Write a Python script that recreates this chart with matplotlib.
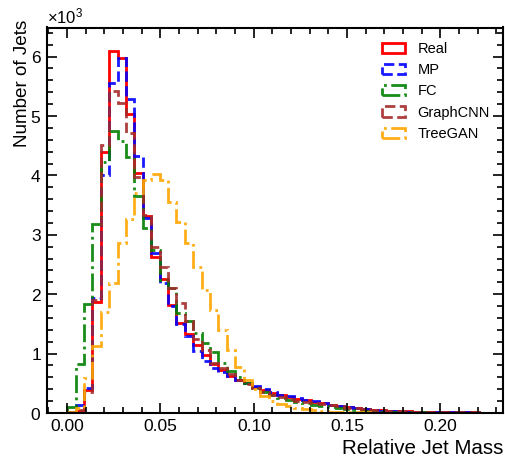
import numpy as np
import matplotlib
matplotlib.use("Agg")
import matplotlib.pyplot as plt
from matplotlib.patches import Patch
from matplotlib.ticker import MultipleLocator, ScalarFormatter

# ---- data (counts per bin) ----
bin_edges = np.linspace(0.0, 0.225, 51)

real = [0.01, 0.03, 0.38, 1.87, 4.40, 6.09, 5.97, 5.03, 4.04, 3.32,
        2.63, 2.25, 1.82, 1.52, 1.33, 1.14, 0.98, 0.83, 0.73, 0.62,
        0.56, 0.50, 0.44, 0.39, 0.34, 0.30, 0.27, 0.24, 0.22, 0.19,
        0.17, 0.14, 0.12, 0.10, 0.08, 0.07, 0.055, 0.045, 0.04, 0.035,
        0.03, 0.025, 0.025, 0.02, 0.02, 0.015, 0.015, 0.01, 0.01, 0.005]
mp = [0.01, 0.13, 0.42, 1.93, 4.00, 5.55, 5.98, 5.28, 4.33, 3.28,
      2.69, 2.19, 1.80, 1.50, 1.30, 1.05, 0.88, 0.75, 0.69, 0.62,
      0.55, 0.50, 0.45, 0.40, 0.35, 0.31, 0.28, 0.25, 0.22, 0.20,
      0.17, 0.14, 0.12, 0.10, 0.08, 0.065, 0.05, 0.04, 0.035, 0.03,
      0.025, 0.02, 0.02, 0.015, 0.015, 0.01, 0.01, 0.01, 0.005, 0.005]
fc = [0.10, 0.82, 1.84, 3.18, 4.22, 4.74, 4.58, 4.31, 3.65, 3.11,
      2.75, 2.24, 2.10, 1.68, 1.55, 1.35, 1.18, 1.03, 0.85, 0.70,
      0.60, 0.50, 0.42, 0.36, 0.30, 0.26, 0.22, 0.19, 0.16, 0.14,
      0.12, 0.10, 0.08, 0.06, 0.05, 0.04, 0.03, 0.025, 0.02, 0.015,
      0.01, 0.01, 0.01, 0.005, 0.005, 0.005, 0.0, 0.0, 0.0, 0.0]
graphcnn = [0.0, 0.05, 0.36, 1.90, 4.52, 5.42, 5.22, 4.71, 3.98, 3.33,
            2.80, 2.45, 2.10, 1.85, 1.55, 1.25, 1.06, 0.85, 0.76, 0.66,
            0.55, 0.48, 0.42, 0.36, 0.31, 0.27, 0.24, 0.21, 0.19, 0.17,
            0.15, 0.13, 0.11, 0.09, 0.08, 0.065, 0.055, 0.045, 0.04, 0.035,
            0.03, 0.025, 0.025, 0.02, 0.02, 0.015, 0.015, 0.01, 0.01, 0.005]
treegan = [0.02, 0.09, 0.59, 1.12, 1.70, 2.19, 2.86, 3.27, 3.71, 3.92,
           4.02, 3.92, 3.56, 3.22, 2.86, 2.46, 2.07, 1.73, 1.40, 1.06,
           0.78, 0.56, 0.40, 0.28, 0.20, 0.15, 0.11, 0.08, 0.06, 0.045,
           0.035, 0.025, 0.02, 0.015, 0.01, 0.01, 0.005, 0.005, 0.0, 0.0,
           0.0, 0.0, 0.0, 0.0, 0.0, 0.0, 0.0, 0.0, 0.0, 0.0]

labels = ["Real", "MP", "FC", "GraphCNN", "TreeGAN"]
series = [real, mp, fc, graphcnn, treegan]
colors = ["red", "blue", "green", "brown", "orange"]
styles = ["solid", "dashed", "dashdot", "dashed", "dashdot"]
alphas = [1.0, 0.9, 0.9, 0.9, 0.9]

plt.rcParams['font.family'] = ['Liberation Sans', 'DejaVu Sans']
plt.rcParams['mathtext.fontset'] = 'custom'
plt.rcParams['mathtext.rm'] = 'Liberation Sans'

fig = plt.figure(figsize=(5.06, 4.57), dpi=100)
ax = fig.add_axes([47/506, 44/457, (503-47)/506, (413-27.5)/457])

handles = []
for vals, lab, c, ls, a in zip(series, labels, colors, styles, alphas):
    ax.stairs(np.array(vals) * 1000, bin_edges, color=c, linestyle=ls,
              linewidth=2.0, alpha=a)
    handles.append(Patch(facecolor='none', edgecolor=c, linestyle=ls,
                         linewidth=2.0, alpha=a, label=lab))

ax.set_xlim(-0.0108, 0.2335)
ax.set_ylim(0, 6490)

ax.xaxis.set_major_locator(MultipleLocator(0.05))
ax.xaxis.set_minor_locator(MultipleLocator(0.01))
ax.yaxis.set_major_locator(MultipleLocator(1000))
ax.yaxis.set_minor_locator(MultipleLocator(200))
ax.xaxis.set_major_formatter(matplotlib.ticker.FormatStrFormatter('%.2f'))
fmt = ScalarFormatter(useMathText=True)
fmt.set_powerlimits((0, 0))
ax.yaxis.set_major_formatter(fmt)

ax.tick_params(which='both', direction='in', top=True, right=True,
               labelsize=12.5, width=1.2)
ax.tick_params(which='major', length=7, pad=4)
ax.tick_params(which='minor', length=4)
for sp in ax.spines.values():
    sp.set_linewidth(1.5)
ax.yaxis.get_offset_text().set_fontsize(12)

ax.set_xlabel("Relative Jet Mass", fontsize=14.8, loc='right')
ax.set_ylabel("Number of Jets", fontsize=13.6, loc='top')
ax.yaxis.set_label_coords(-0.034, 1.02)

ax.legend(handles=handles, loc='upper right', bbox_to_anchor=(1.0, 0.997),
          frameon=False, fontsize=10.5, handlelength=1.55, handleheight=0.7,
          labelspacing=0.5, handletextpad=0.85)

fig.savefig("out.png", dpi=100)
